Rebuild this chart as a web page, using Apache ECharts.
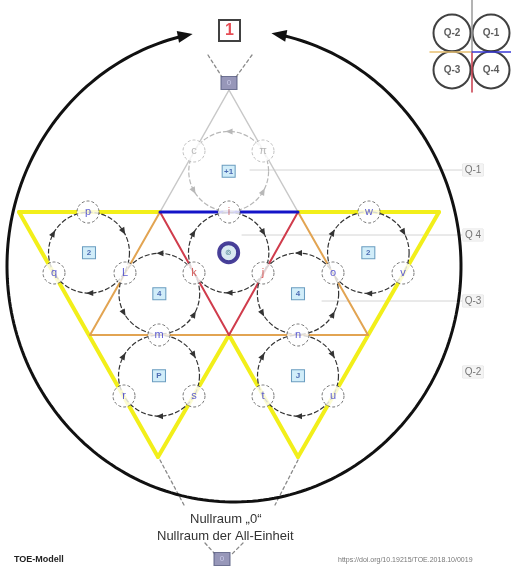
<!DOCTYPE html>
<html>
<head>
<meta charset="utf-8">
<title>TOE-Modell</title>
<script src="https://cdn.jsdelivr.net/npm/echarts@6/dist/echarts.min.js"></script>
<style>
  html, body { margin: 0; padding: 0; background: #fff; }
  #main { width: 511px; height: 569px; }
</style>
</head>
<body>
<div id="main"></div>
<script>
// corners of the triangle lattice (diagram units = pixels)
const cornerNames = ['A', 'B', 'C', 'D', 'E', 'F', 'G', 'H', 'I', 'T'];
const cornerX = [19, 160, 298, 439, 90, 229, 368, 158, 298, 229];
const cornerY = [212, 212, 212, 212, 335, 335, 335, 457, 457, 90];

// edges by colour
const yellowEdges = [['A', 'B'], ['C', 'D'], ['A', 'H'], ['H', 'F'], ['F', 'I'], ['I', 'D']];
const orangeEdges = [['B', 'E'], ['C', 'G'], ['E', 'G']];
const redEdges = [['B', 'F'], ['C', 'F']];
const blueEdges = [['B', 'C']];
const greyEdges = [['T', 'B'], ['T', 'C']];

// nodes on the edges
const nodeNames = ['c', 'π', 'i', 'p', 'q', 'L', 'k', 'j', 'o', 'w', 'v', 'm', 'n', 'r', 's', 't', 'u'];
const nodeX = [194, 263, 229, 88, 54, 125, 194, 263, 333, 369, 403, 159, 298, 124, 194, 263, 333];
const nodeY = [151, 151, 212, 212, 273, 273, 273, 273, 273, 212, 273, 335, 335, 396, 396, 396, 396];

// rotation cycles, nodes listed in the direction of the arrows
const cycles = [['π', 'c', 'i'], ['q', 'p', 'L'], ['k', 'i', 'j'], ['o', 'w', 'v'],
  ['k', 'L', 'm'], ['o', 'j', 'n'], ['r', 'm', 's'], ['t', 'n', 'u']];
const cycleGlyphs = ['+1', '2', '', '2', '4', '4', 'P', 'J'];

// Q levels on the right
const levelNames = ['Q-1', 'Q 4', 'Q-3', 'Q-2'];
const levelY = [170, 235, 301, 372];
const levelLineFrom = [250, 242, 322, null];

// quadrant icon top right
const quadNames = ['Q-2', 'Q-1', 'Q-3', 'Q-4'];
const quadX = [452, 491, 452, 491];
const quadY = [33, 33, 70, 70];

// big outer ring
const ringCenter = [234, 266];
const ringRadii = [227, 236];

// dashed connectors to the "0" boxes
const dashedLines = [[208, 55, 222, 77], [252, 55, 236, 77], [160, 460, 184, 505], [298, 460, 275, 505],
  [205, 543, 215, 554], [243, 543, 232, 554]];

function corner(name) {
  const i = cornerNames.indexOf(name);
  return [cornerX[i], cornerY[i]];
}
function node(name) {
  const i = nodeNames.indexOf(name);
  return [nodeX[i], nodeY[i]];
}
function edgeData(edges) {
  return edges.map(e => corner(e[0]).concat(corner(e[1])));
}
const cycleCenters = cycles.map(c => {
  const pts = c.map(node);
  return [(pts[0][0] + pts[1][0] + pts[2][0]) / 3, (pts[0][1] + pts[1][1] + pts[2][1]) / 3];
});

function segmentSeries(data, color, width, dash, z) {
  return {
    type: 'custom',
    silent: true,
    z: z,
    data: data,
    encode: { x: [0, 2], y: [1, 3] },
    renderItem: function (params, api) {
      const a = api.coord([api.value(0), api.value(1)]);
      const b = api.coord([api.value(2), api.value(3)]);
      return {
        type: 'line',
        shape: { x1: a[0], y1: a[1], x2: b[0], y2: b[1] },
        style: { stroke: color, lineWidth: width, lineDash: dash || null, lineCap: 'round' }
      };
    }
  };
}

function arrowHead(px, py, tx, ty, len, half) {
  // tip at p, pointing along t
  return [[px, py], [px - tx * len - ty * half, py - ty * len + tx * half], [px - tx * len + ty * half, py - ty * len - tx * half]];
}

const TWO_PI = Math.PI * 2;
const mod = v => ((v % TWO_PI) + TWO_PI) % TWO_PI;

const myChart = echarts.init(document.getElementById('main'));

const options = {
  animation: false,
  backgroundColor: '#fff',
  grid: { left: 0, right: 0, top: 0, bottom: 0 },
  xAxis: { type: 'value', min: 0, max: 511, show: false },
  yAxis: { type: 'value', min: 0, max: 569, inverse: true, show: false },
  graphic: [
    { type: 'text', left: 14, top: 555, style: { text: 'TOE-Modell', font: 'bold 9px "Liberation Sans"', fill: '#222' } },
    { type: 'text', left: 338, top: 557, style: { text: 'https://doi.org/10.19215/TOE.2018.10/0019', font: '7px "Liberation Sans"', fill: '#777' } },
    { type: 'text', left: 190, top: 513, style: { text: 'Nullraum „0“', font: '13px "Liberation Sans"', fill: '#333' } },
    { type: 'text', left: 157, top: 530, style: { text: 'Nullraum der All-Einheit', font: '13px "Liberation Sans"', fill: '#333' } }
  ],
  series: [
    // guide lines to the Q levels
    segmentSeries(levelY.map((y, i) => levelLineFrom[i] === null ? null : [levelLineFrom[i], y, 462, y]).filter(d => d),
      '#d4d4d4', 1, null, 1),
    segmentSeries(edgeData(greyEdges), '#c8c8c8', 1.5, null, 2),
    segmentSeries(edgeData(yellowEdges), '#f2ef1a', 4, null, 2),
    segmentSeries(edgeData(orangeEdges), '#e2a452', 2, null, 3),
    segmentSeries(edgeData(redEdges), '#d03c4c', 2, null, 3),
    segmentSeries(edgeData(blueEdges), '#1414c8', 3, null, 3),
    segmentSeries(dashedLines, '#8a8a8a', 1.3, [3, 3], 2),
    // quadrant icon lines
    segmentSeries([[quadX[1] - 19, 0, quadX[1] - 19, 52]], '#9a9a9a', 1.5, null, 6),
    segmentSeries([[quadX[1] - 19, 52, quadX[1] - 19, 92]], '#c83a4a', 1.5, null, 6),
    segmentSeries([[430, 52, quadX[1] - 19, 52]], '#e8c070', 1.5, null, 6),
    segmentSeries([[quadX[1] - 19, 52, 511, 52]], '#3a3ad8', 1.5, null, 6),
    // outer ring with the two arrows
    {
      type: 'custom',
      silent: true,
      z: 2,
      data: [ringCenter],
      encode: { x: 0, y: 1 },
      renderItem: function (params, api) {
        const c = api.coord([api.value(0), api.value(1)]);
        const s = api.size(ringRadii);
        const rx = s[0], ry = s[1];
        const t0 = 283 * Math.PI / 180, t1 = (256 + 360) * Math.PI / 180;
        const pts = [];
        for (let k = 0; k <= 240; k++) {
          const t = t0 + (t1 - t0) * k / 240;
          pts.push([c[0] + rx * Math.cos(t), c[1] + ry * Math.sin(t)]);
        }
        const tipA = 279.5 * Math.PI / 180, tipB = 259.5 * Math.PI / 180;
        function head(t, dir) {
          const px = c[0] + rx * Math.cos(t), py = c[1] + ry * Math.sin(t);
          let tx = -rx * Math.sin(t) * dir, ty = ry * Math.cos(t) * dir;
          const l = Math.hypot(tx, ty);
          tx /= l; ty /= l;
          return { type: 'polygon', shape: { points: arrowHead(px, py, tx, ty, 15, 6) }, style: { fill: '#111' } };
        }
        return {
          type: 'group',
          children: [
            { type: 'polyline', shape: { points: pts }, style: { stroke: '#111', lineWidth: 3, fill: 'none' } },
            head(tipA, -1),
            head(tipB, 1)
          ]
        };
      }
    },
    // rotation cycles
    {
      type: 'custom',
      silent: true,
      z: 4,
      data: cycleCenters.map((c, i) => [c[0], c[1], i]),
      encode: { x: 0, y: 1 },
      renderItem: function (params, api) {
        const cyc = cycles[api.value(2)];
        const c = api.coord([api.value(0), api.value(1)]);
        const pts = cyc.map(n => api.coord(node(n)));
        const r = Math.hypot(pts[0][0] - c[0], pts[0][1] - c[1]);
        const color = cyc[0] === 'π' ? '#b8b8b8' : '#333';
        const children = [{
          type: 'circle',
          shape: { cx: c[0], cy: c[1], r: r },
          style: { fill: 'none', stroke: color, lineWidth: 1.2, lineDash: [5, 2] }
        }];
        const ang = pts.map(p => Math.atan2(p[1] - c[1], p[0] - c[0]));
        const dir = mod(ang[1] - ang[0]) < mod(ang[2] - ang[0]) ? 1 : -1;
        for (let k = 0; k < 3; k++) {
          const a0 = ang[k], a1 = ang[(k + 1) % 3];
          const span = dir > 0 ? mod(a1 - a0) : mod(a0 - a1);
          const phi = a0 + dir * span / 2;
          const px = c[0] + r * Math.cos(phi), py = c[1] + r * Math.sin(phi);
          const tx = -Math.sin(phi) * dir, ty = Math.cos(phi) * dir;
          children.push({
            type: 'polygon',
            shape: { points: arrowHead(px + tx * 3, py + ty * 3, tx, ty, 7, 3) },
            style: { fill: color }
          });
        }
        return { type: 'group', children: children };
      }
    },
    // glyph boxes in the cycles
    {
      type: 'scatter',
      z: 5,
      symbol: 'rect',
      symbolSize: [13, 12],
      data: cycleCenters.map((c, i) => ({ value: c, name: cycleGlyphs[i] })).filter((d, i) => i !== 2),
      itemStyle: { color: '#c6e8f8', borderColor: '#4a86b0', borderWidth: 1 },
      label: { show: true, position: 'inside', formatter: '{b}', fontSize: 8, fontWeight: 'bold', color: '#2a4aa0' }
    },
    // centre icon
    {
      type: 'scatter',
      z: 5,
      symbol: 'circle',
      symbolSize: 19,
      data: [{ value: cycleCenters[2], name: '⊚' }],
      itemStyle: { color: '#cfe3ee', borderColor: '#1c1080', borderWidth: 4 },
      label: { show: true, position: 'inside', formatter: '{b}', fontSize: 8, color: '#2a6a7a' }
    },
    // nodes
    {
      type: 'scatter',
      z: 6,
      symbol: 'circle',
      symbolSize: 22,
      data: nodeNames.map((n, i) => {
        const grey = n === 'c' || n === 'π';
        const red = n === 'k' || n === 'j' || n === 'i';
        return {
          value: [nodeX[i], nodeY[i]],
          name: n,
          itemStyle: { borderColor: grey ? '#b0b0b0' : '#555' },
          label: { color: grey ? '#a8a8a8' : (red ? (n === 'i' ? '#c86060' : '#d23a3a') : '#3535c8') }
        };
      }),
      itemStyle: { color: '#fff', borderWidth: 1, borderType: [3, 2] },
      label: { show: true, position: 'inside', formatter: '{b}', fontSize: 11, fontFamily: 'Liberation Sans' }
    },
    // the "1" box and the two "0" boxes
    {
      type: 'scatter',
      z: 6,
      symbol: 'rect',
      symbolSize: 21,
      data: [{ value: [229.5, 30.5], name: '1' }],
      itemStyle: { color: '#fff', borderColor: '#111', borderWidth: 2 },
      label: { show: true, position: 'inside', formatter: '{b}', fontSize: 16, fontWeight: 'bold', color: '#e0202a', fontFamily: 'Liberation Sans' }
    },
    {
      type: 'scatter',
      z: 6,
      symbol: 'rect',
      symbolSize: [16, 13],
      data: [{ value: [229, 83], name: '0' }, { value: [222, 559], name: '0' }],
      itemStyle: { color: '#7d7da8', borderColor: '#555a80', borderWidth: 1 },
      label: { show: true, position: 'inside', formatter: '{b}', fontSize: 8, color: '#d6d6f4' }
    },
    // Q level labels
    {
      type: 'scatter',
      z: 6,
      symbolSize: 1,
      data: levelNames.map((n, i) => ({ value: [473, levelY[i]], name: n })),
      itemStyle: { color: 'rgba(0,0,0,0)' },
      label: {
        show: true, position: 'inside', formatter: '{b}', fontSize: 10, color: '#555',
        fontFamily: 'Liberation Sans', backgroundColor: '#f1f1f1', borderColor: '#ddd', borderWidth: 0.5, padding: [1, 2]
      }
    },
    // quadrant icon
    {
      type: 'scatter',
      z: 5,
      symbol: 'circle',
      symbolSize: 37,
      data: quadNames.map((n, i) => ({ value: [quadX[i], quadY[i]], name: n })),
      itemStyle: { color: '#fff', borderColor: '#111', borderWidth: 2 },
      label: { show: true, position: 'inside', formatter: '{b}', fontSize: 10, fontWeight: 'bold', color: '#333', fontFamily: 'Liberation Sans' }
    }
  ]
};

myChart.setOption(options);
</script>
</body>
</html>
